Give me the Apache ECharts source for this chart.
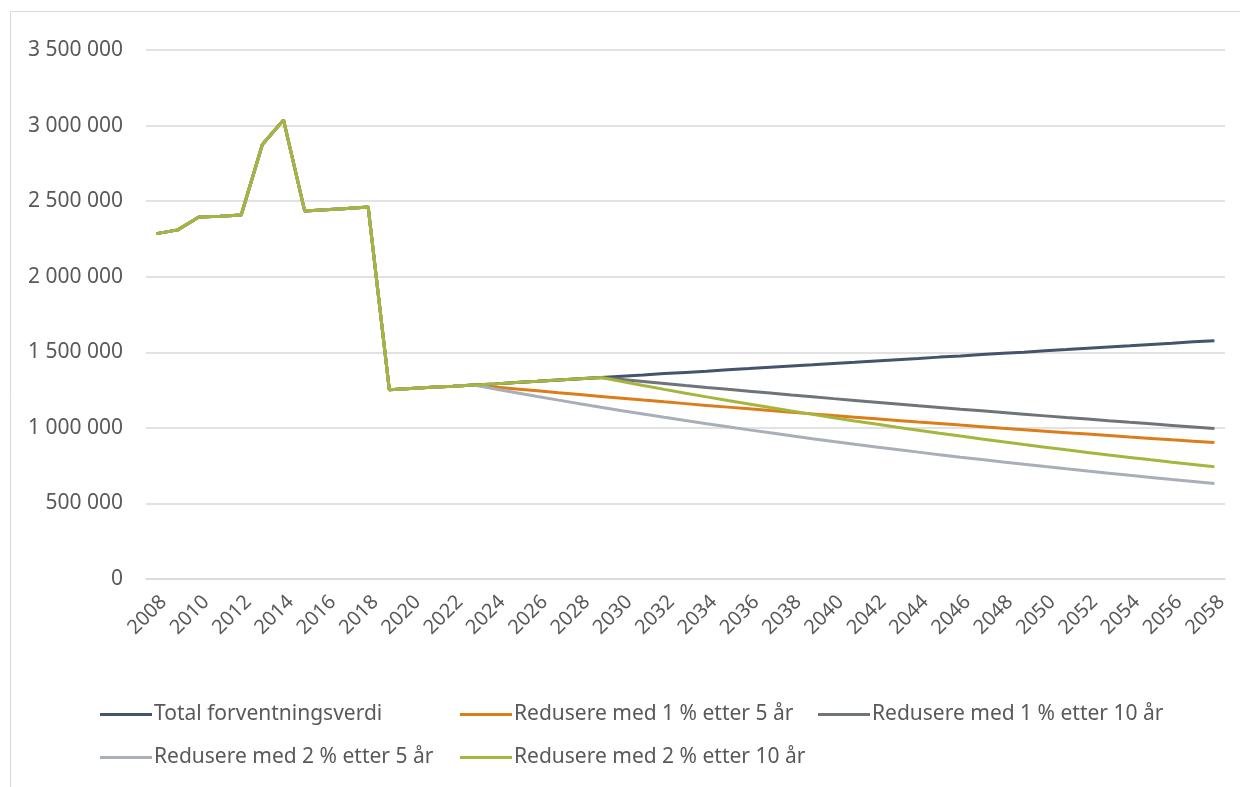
<!DOCTYPE html>
<html>
<head>
<meta charset="utf-8">
<script src="https://cdn.jsdelivr.net/npm/echarts@6/dist/echarts.min.js"></script>
<style>
html,body{margin:0;padding:0;background:#fff;}
#chart{width:1240px;height:787px;}
</style>
</head>
<body>
<div id="chart"></div>
<script>
// Years 2008..2058
const years = [];
for (let y = 2008; y <= 2058; y++) years.push(String(y));

// Shared history 2008-2023
const history = [2285000, 2310000, 2395000, 2400000, 2408000, 2875000, 3037000, 2435000,
  2443000, 2452000, 2462000, 1252000, 1260000, 1268000, 1275000, 1283000];

// Total forventningsverdi 2024-2058
const totalProj = [1291000, 1300000, 1308000, 1317000, 1325000, 1333000, 1342000, 1350000,
  1359000, 1367000, 1375000, 1384000, 1392000, 1401000, 1409000, 1417000, 1426000, 1434000,
  1443000, 1451000, 1459000, 1468000, 1476000, 1485000, 1493000, 1501000, 1510000, 1518000,
  1527000, 1535000, 1543000, 1552000, 1560000, 1569000, 1577000];

// Redusere med 1 % etter 5 år 2024-2058
const red1p5Proj = [1270200, 1257500, 1244900, 1232400, 1220100, 1207900, 1195900, 1183800,
  1172000, 1160300, 1148700, 1137200, 1125800, 1114500, 1103500, 1092500, 1081400, 1070700,
  1060000, 1049400, 1038800, 1028500, 1018200, 1008100, 997900, 987900, 978000, 968300,
  958700, 949000, 939500, 930200, 920800, 911700, 902500];

// Redusere med 2 % etter 5 år 2024-2058
const red2p5Proj = [1257300, 1232200, 1207600, 1183400, 1159700, 1136500, 1113800, 1091600,
  1069600, 1048300, 1027300, 1006800, 986600, 966900, 947600, 928600, 910000, 891800,
  874000, 856500, 839500, 822700, 806100, 790100, 774300, 758800, 743600, 728700,
  714100, 699900, 685900, 672200, 658700, 645500, 632600];

// Redusere med 1 % etter 10 år 2030-2058 (follows total until 2029)
const red1p10Proj = [1319700, 1306500, 1293400, 1280500, 1267700, 1255000, 1242500, 1230000,
  1217700, 1205600, 1193400, 1181600, 1169700, 1158000, 1146500, 1135100, 1123600, 1112400,
  1101300, 1090300, 1079300, 1068500, 1057900, 1047300, 1036800, 1026400, 1016100, 1006000, 996000];

// Redusere med 2 % etter 10 år 2030-2058
const red2p10Proj = [1306300, 1280200, 1254600, 1229600, 1204900, 1180800, 1157200, 1134100,
  1111300, 1089200, 1067300, 1046000, 1025100, 1004500, 984600, 964800, 945500, 926600,
  908000, 889900, 872200, 854700, 837500, 820900, 804500, 788300, 772600, 757200, 742000];

const seriesNames = ['Total forventningsverdi', 'Redusere med 1 % etter 5 år', 'Redusere med 1 % etter 10 år',
  'Redusere med 2 % etter 5 år', 'Redusere med 2 % etter 10 år'];
const colors = ['#44546A', '#DC7D1A', '#6F7479', '#A9AFB6', '#A5B53E'];

const totalData = history.concat(totalProj);
const total2029 = totalProj.slice(0, 6); // 2024-2029
const seriesData = [
  totalData,
  history.concat(red1p5Proj),
  history.concat(total2029, red1p10Proj),
  history.concat(red2p5Proj),
  history.concat(total2029, red2p10Proj)
];

const FONT = "'Noto Sans', 'Open Sans', sans-serif";

function fmt(v) {
  return String(v).replace(/\B(?=(\d{3})+(?!\d))/g, ' ');
}

const legendPos = [[100, 704], [460, 704], [818, 704], [100, 747], [460, 747]];
const legends = seriesNames.map((n, i) => ({
  data: [n],
  left: legendPos[i][0],
  top: legendPos[i][1],
  icon: 'rect',
  itemWidth: 52,
  itemHeight: 3,
  itemGap: 0,
  padding: 0,
  textStyle: { fontFamily: FONT, fontSize: 21, color: '#595959', padding: [0, 0, 0, -3] }
}));

const chart = echarts.init(document.getElementById('chart'));
chart.setOption({
  animation: false,
  color: colors,
  graphic: [{
    type: 'rect',
    shape: { x: 10.5, y: 11.5, width: 1260, height: 800 },
    style: { fill: 'none', stroke: '#D9D9D9', lineWidth: 1 },
    silent: true
  }],
  legend: legends,
  grid: { left: 146, right: 15, top: 50, bottom: 208, containLabel: false },
  xAxis: {
    type: 'category',
    data: years,
    boundaryGap: true,
    axisLine: { lineStyle: { color: '#D9D9D9', width: 1.5 } },
    axisTick: { show: false },
    axisLabel: {
      interval: 1,
      rotate: 45,
      fontFamily: FONT,
      fontSize: 20,
      color: '#595959',
      margin: 27,
      padding: [0, -10, 0, 0]
    }
  },
  yAxis: {
    type: 'value',
    min: 0,
    max: 3500000,
    interval: 500000,
    axisLine: { show: false },
    axisTick: { show: false },
    splitLine: { lineStyle: { color: '#D9D9D9', width: 1.5 } },
    axisLabel: {
      formatter: fmt,
      fontFamily: FONT,
      fontSize: 21,
      color: '#595959',
      margin: 23
    }
  },
  series: seriesNames.map((n, i) => ({
    name: n,
    type: 'line',
    data: seriesData[i],
    symbol: 'none',
    lineStyle: { width: 3, color: colors[i] },
    itemStyle: { color: colors[i] }
  }))
});
</script>
</body>
</html>
